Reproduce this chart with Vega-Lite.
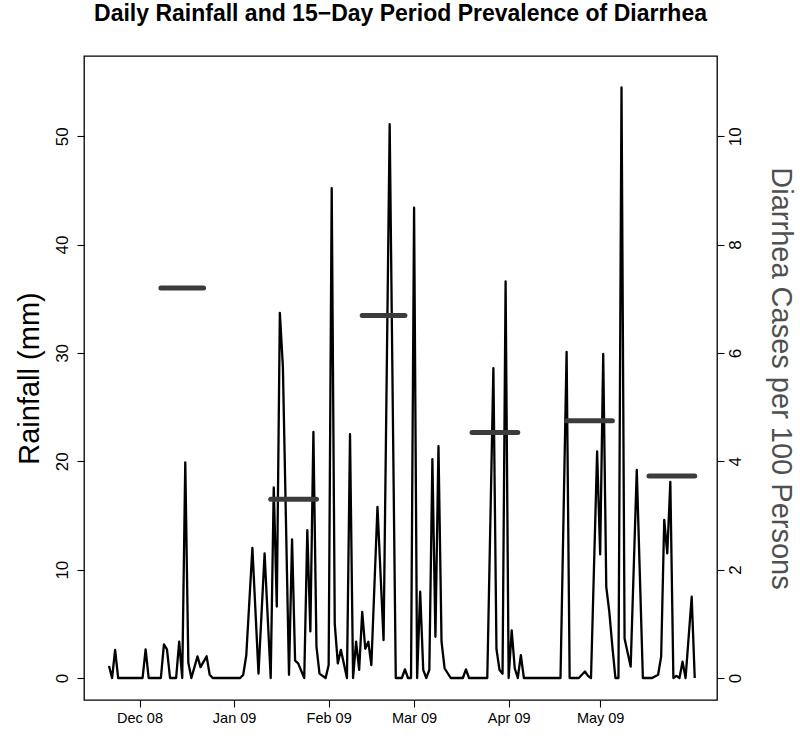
{
  "$schema": "https://vega.github.io/schema/vega-lite/v6.json",
  "width": 633,
  "height": 644,
  "autosize": {"type": "none"},
  "padding": {"left": 84, "top": 56, "right": 83, "bottom": 47},
  "background": "white",
  "config": {
    "font": "Liberation Sans",
    "view": {"stroke": "black", "strokeWidth": 1.3},
    "axis": {"grid": false, "domain": false, "tickColor": "black", "labelColor": "black", "titleColor": "black", "tickSize": 7, "tickWidth": 1.1, "labelFont": "Liberation Sans", "titleFont": "Liberation Sans", "titleFontWeight": "normal"}
  },
  "title": {"text": "Daily Rainfall and 15\u2212Day Period Prevalence of Diarrhea", "fontSize": 23, "fontWeight": "bold", "font": "Liberation Sans", "anchor": "middle", "offset": 30, "color": "black"},
  "datasets": {
    "rain": [
      {"date": "2008-11-21T00:00", "rainfall": 1.1},
      {"date": "2008-11-22T00:00", "rainfall": 0},
      {"date": "2008-11-23T00:00", "rainfall": 2.6},
      {"date": "2008-11-24T00:00", "rainfall": 0},
      {"date": "2008-12-02T00:00", "rainfall": 0},
      {"date": "2008-12-03T00:00", "rainfall": 2.65},
      {"date": "2008-12-04T00:00", "rainfall": 0},
      {"date": "2008-12-08T00:00", "rainfall": 0},
      {"date": "2008-12-09T00:00", "rainfall": 3.1},
      {"date": "2008-12-10T00:00", "rainfall": 2.65},
      {"date": "2008-12-11T00:00", "rainfall": 0},
      {"date": "2008-12-13T00:00", "rainfall": 0},
      {"date": "2008-12-14T00:00", "rainfall": 3.35},
      {"date": "2008-12-15T00:00", "rainfall": 0},
      {"date": "2008-12-16T00:00", "rainfall": 19.9},
      {"date": "2008-12-17T00:00", "rainfall": 1.4},
      {"date": "2008-12-18T00:00", "rainfall": 0},
      {"date": "2008-12-20T00:00", "rainfall": 2.0},
      {"date": "2008-12-21T00:00", "rainfall": 1.0},
      {"date": "2008-12-23T00:00", "rainfall": 2.0},
      {"date": "2008-12-24T00:00", "rainfall": 0.3},
      {"date": "2008-12-25T00:00", "rainfall": 0},
      {"date": "2009-01-03T00:00", "rainfall": 0},
      {"date": "2009-01-04T00:00", "rainfall": 0.3},
      {"date": "2009-01-05T00:00", "rainfall": 2.1},
      {"date": "2009-01-07T00:00", "rainfall": 12.0},
      {"date": "2009-01-09T00:00", "rainfall": 0.4},
      {"date": "2009-01-11T00:00", "rainfall": 11.5},
      {"date": "2009-01-13T00:00", "rainfall": 0},
      {"date": "2009-01-14T00:00", "rainfall": 17.6},
      {"date": "2009-01-15T00:00", "rainfall": 6.6},
      {"date": "2009-01-16T00:00", "rainfall": 33.7},
      {"date": "2009-01-17T00:00", "rainfall": 28.7},
      {"date": "2009-01-19T00:00", "rainfall": 0.3},
      {"date": "2009-01-20T00:00", "rainfall": 12.8},
      {"date": "2009-01-21T00:00", "rainfall": 1.6},
      {"date": "2009-01-22T00:00", "rainfall": 1.35},
      {"date": "2009-01-24T00:00", "rainfall": 0},
      {"date": "2009-01-25T00:00", "rainfall": 13.65},
      {"date": "2009-01-26T00:00", "rainfall": 4.3},
      {"date": "2009-01-27T00:00", "rainfall": 22.7},
      {"date": "2009-01-28T00:00", "rainfall": 2.9},
      {"date": "2009-01-29T00:00", "rainfall": 0.4},
      {"date": "2009-01-30T00:00", "rainfall": 0.2},
      {"date": "2009-01-31T00:00", "rainfall": 0},
      {"date": "2009-02-01T00:00", "rainfall": 1.2},
      {"date": "2009-02-02T00:00", "rainfall": 45.2},
      {"date": "2009-02-03T00:00", "rainfall": 5.0},
      {"date": "2009-02-04T00:00", "rainfall": 1.35},
      {"date": "2009-02-05T00:00", "rainfall": 2.6},
      {"date": "2009-02-07T00:00", "rainfall": 0},
      {"date": "2009-02-08T00:00", "rainfall": 22.5},
      {"date": "2009-02-09T00:00", "rainfall": 0},
      {"date": "2009-02-10T00:00", "rainfall": 3.35},
      {"date": "2009-02-11T00:00", "rainfall": 0.75},
      {"date": "2009-02-12T00:00", "rainfall": 6.1},
      {"date": "2009-02-13T00:00", "rainfall": 2.7},
      {"date": "2009-02-14T00:00", "rainfall": 3.35},
      {"date": "2009-02-15T00:00", "rainfall": 1.2},
      {"date": "2009-02-17T00:00", "rainfall": 15.8},
      {"date": "2009-02-19T00:00", "rainfall": 3.5},
      {"date": "2009-02-21T00:00", "rainfall": 51.1},
      {"date": "2009-02-23T00:00", "rainfall": 0},
      {"date": "2009-02-25T00:00", "rainfall": 0},
      {"date": "2009-02-26T00:00", "rainfall": 0.8},
      {"date": "2009-02-27T00:00", "rainfall": 0},
      {"date": "2009-02-28T00:00", "rainfall": 0},
      {"date": "2009-03-01T00:00", "rainfall": 43.4},
      {"date": "2009-03-02T00:00", "rainfall": 0},
      {"date": "2009-03-03T00:00", "rainfall": 7.96},
      {"date": "2009-03-04T00:00", "rainfall": 0.75},
      {"date": "2009-03-05T00:00", "rainfall": 0},
      {"date": "2009-03-06T00:00", "rainfall": 0.75},
      {"date": "2009-03-07T00:00", "rainfall": 20.2},
      {"date": "2009-03-08T00:00", "rainfall": 3.8},
      {"date": "2009-03-09T00:00", "rainfall": 21.4},
      {"date": "2009-03-10T00:00", "rainfall": 3.35},
      {"date": "2009-03-11T00:00", "rainfall": 0.9},
      {"date": "2009-03-13T00:00", "rainfall": 0},
      {"date": "2009-03-17T00:00", "rainfall": 0},
      {"date": "2009-03-18T00:00", "rainfall": 0.8},
      {"date": "2009-03-19T00:00", "rainfall": 0},
      {"date": "2009-03-25T00:00", "rainfall": 0},
      {"date": "2009-03-27T00:00", "rainfall": 28.6},
      {"date": "2009-03-28T00:00", "rainfall": 2.7},
      {"date": "2009-03-29T00:00", "rainfall": 0.75},
      {"date": "2009-03-30T00:00", "rainfall": 0.4},
      {"date": "2009-03-31T00:00", "rainfall": 36.6},
      {"date": "2009-04-01T00:00", "rainfall": 0},
      {"date": "2009-04-02T00:00", "rainfall": 4.4},
      {"date": "2009-04-03T00:00", "rainfall": 0.9},
      {"date": "2009-04-04T00:00", "rainfall": 0},
      {"date": "2009-04-05T00:00", "rainfall": 2.1},
      {"date": "2009-04-06T00:00", "rainfall": 0},
      {"date": "2009-04-18T00:00", "rainfall": 0},
      {"date": "2009-04-20T00:00", "rainfall": 30.1},
      {"date": "2009-04-21T00:00", "rainfall": 0},
      {"date": "2009-04-24T00:00", "rainfall": 0},
      {"date": "2009-04-26T00:00", "rainfall": 0.6},
      {"date": "2009-04-27T00:00", "rainfall": 0.2},
      {"date": "2009-04-28T00:00", "rainfall": 0},
      {"date": "2009-04-30T00:00", "rainfall": 20.9},
      {"date": "2009-05-01T00:00", "rainfall": 11.4},
      {"date": "2009-05-02T00:00", "rainfall": 29.9},
      {"date": "2009-05-03T00:00", "rainfall": 8.4},
      {"date": "2009-05-04T00:00", "rainfall": 6.1},
      {"date": "2009-05-05T00:00", "rainfall": 2.9},
      {"date": "2009-05-06T00:00", "rainfall": 0},
      {"date": "2009-05-07T00:00", "rainfall": 0},
      {"date": "2009-05-08T00:00", "rainfall": 54.5},
      {"date": "2009-05-09T00:00", "rainfall": 3.65},
      {"date": "2009-05-11T00:00", "rainfall": 1.05},
      {"date": "2009-05-13T00:00", "rainfall": 19.2},
      {"date": "2009-05-15T00:00", "rainfall": 0},
      {"date": "2009-05-18T00:00", "rainfall": 0},
      {"date": "2009-05-20T00:00", "rainfall": 0.3},
      {"date": "2009-05-21T00:00", "rainfall": 2.0},
      {"date": "2009-05-22T00:00", "rainfall": 14.6},
      {"date": "2009-05-23T00:00", "rainfall": 11.5},
      {"date": "2009-05-24T00:00", "rainfall": 18.1},
      {"date": "2009-05-25T00:00", "rainfall": 0},
      {"date": "2009-05-26T00:00", "rainfall": 0.2},
      {"date": "2009-05-27T00:00", "rainfall": 0},
      {"date": "2009-05-28T00:00", "rainfall": 1.5},
      {"date": "2009-05-29T00:00", "rainfall": 0},
      {"date": "2009-05-31T00:00", "rainfall": 7.5},
      {"date": "2009-06-01T00:00", "rainfall": 0}
    ],
    "prev": [
      {"start": "2008-12-08T00:00", "end": "2008-12-22T00:00", "prevalence": 7.2},
      {"start": "2009-01-13T00:00", "end": "2009-01-28T00:00", "prevalence": 3.3},
      {"start": "2009-02-12T00:00", "end": "2009-02-26T00:00", "prevalence": 6.69},
      {"start": "2009-03-20T00:00", "end": "2009-04-04T00:00", "prevalence": 4.53},
      {"start": "2009-04-20T00:00", "end": "2009-05-05T00:00", "prevalence": 4.75},
      {"start": "2009-05-17T00:00", "end": "2009-06-01T00:00", "prevalence": 3.73}
    ]
  },
  "layer": [
    {
      "data": {"name": "rain"},
      "mark": {"type": "line", "color": "black", "strokeWidth": 2.3, "strokeJoin": "round", "clip": true},
      "encoding": {
        "x": {
          "field": "date", "type": "temporal",
          "scale": {"domain": [{"year": 2008, "month": 11, "date": 12, "hours": 19, "minutes": 12}, {"year": 2009, "month": 6, "date": 8, "hours": 7, "minutes": 12}], "nice": false},
          "axis": {
            "title": null, "format": "%b %y", "labelFontSize": 14.5, "labelPadding": 4,
            "values": [
              {"year": 2008, "month": 12, "date": 1},
              {"year": 2009, "month": 1, "date": 1},
              {"year": 2009, "month": 2, "date": 1},
              {"year": 2009, "month": 3, "date": 1},
              {"year": 2009, "month": 4, "date": 1},
              {"year": 2009, "month": 5, "date": 1}
            ]
          }
        },
        "y": {
          "field": "rainfall", "type": "quantitative",
          "scale": {"domain": [-2.03, 57.4], "nice": false, "zero": false},
          "axis": {"title": "Rainfall (mm)", "titleFontSize": 29, "titlePadding": 9, "values": [0, 10, 20, 30, 40, 50], "labelAngle": -90, "labelAlign": "center", "labelBaseline": "middle", "labelPadding": 15, "labelFontSize": 17}
        }
      }
    },
    {
      "data": {"name": "prev"},
      "mark": {"type": "rule", "color": "#3c3c3c", "strokeWidth": 5, "strokeCap": "round"},
      "encoding": {
        "x": {"field": "start", "type": "temporal", "scale": {"domain": [{"year": 2008, "month": 11, "date": 12, "hours": 19, "minutes": 12}, {"year": 2009, "month": 6, "date": 8, "hours": 7, "minutes": 12}], "nice": false}},
        "x2": {"field": "end"},
        "y": {
          "field": "prevalence", "type": "quantitative",
          "scale": {"domain": [-0.406, 11.48], "nice": false, "zero": false},
          "axis": {"orient": "right", "title": "Diarrhea Cases per 100 Persons", "titleFontSize": 29, "titleColor": "#505050", "titlePadding": 22, "values": [0, 2, 4, 6, 8, 10], "labelAngle": -90, "labelAlign": "center", "labelBaseline": "middle", "labelPadding": 11, "labelFontSize": 17}
        }
      }
    }
  ],
  "resolve": {"scale": {"y": "independent"}}
}
